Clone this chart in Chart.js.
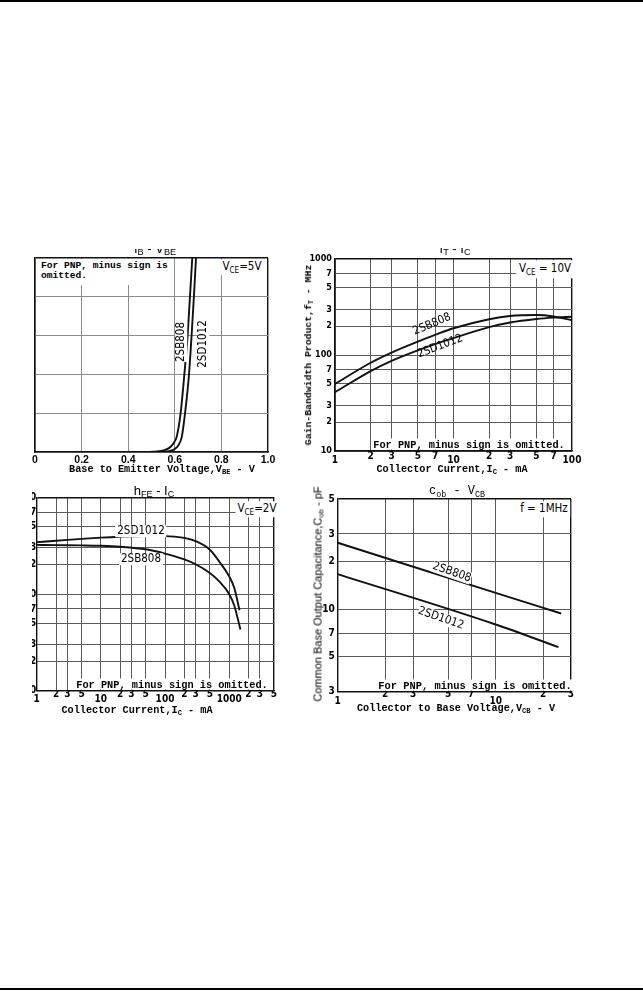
<!DOCTYPE html>
<html>
<head>
<meta charset="utf-8">
<script src="https://cdn.jsdelivr.net/npm/chart.js@4.4.1/dist/chart.umd.min.js"></script>
<style>
  body { margin: 0; background: #fff; }
  #page { position: relative; width: 643px; height: 991px; overflow: hidden; background: #fff; }
  canvas { position: absolute; }
  .rule { position: absolute; left: 0; width: 643px; height: 2px; background: #000; }
  .t { position: absolute; white-space: nowrap; line-height: 1; color: #000; transform: translate(-50%, -50%); }
  .bg { background: #fff; }
  .mono { font-family: "Liberation Mono", "DejaVu Sans Mono", monospace; font-weight: bold; }
  .sans { font-family: "Liberation Sans", Arial, sans-serif; }
  .narrow { font-family: "Liberation Sans Narrow", "DejaVu Sans Condensed", "Liberation Sans", sans-serif; }
  .note { line-height: 10px; padding: 1px 2px 0 2px; }
  sub { font-size: 70%; vertical-align: -0.3em; line-height: 0; }
  .clip { position: absolute; overflow: hidden; }
</style>
</head>
<body>
<div id="page">
  <div class="rule" style="top:0"></div>
  <div class="rule" style="top:988px"></div>

  <canvas id="ibChart"></canvas>
  <canvas id="ftChart"></canvas>
  <canvas id="hfeChart"></canvas>
  <canvas id="cobChart"></canvas>

  <!-- I_B - V_BE -->
  <div class="clip" style="left:100px;top:249px;width:110px;height:9px">
    <div class="t sans" style="left:55px;top:-1px;font-size:13px">I<sub>B</sub> - V<sub>BE</sub></div>
  </div>
  <div class="t mono bg" style="left:37px;top:259px;transform:none;font-size:9.6px;line-height:10px;padding:2px 4px 4px 4px">For PNP, minus sign is<br>omitted.</div>
  <div class="t narrow bg" style="left:242px;top:267px;font-size:11.5px;padding:2px">V<sub>CE</sub>=5V</div>
  <div class="t narrow bg" style="left:181px;top:342px;font-size:11.5px;transform:translate(-50%,-50%) rotate(-90deg)">2SB808</div>
  <div class="t narrow bg" style="left:203px;top:344px;font-size:11.5px;transform:translate(-50%,-50%) rotate(-90deg)">2SD1012</div>
  <div class="t mono" style="left:162px;top:470px;font-size:10.2px">Base to Emitter Voltage,V<sub>BE</sub> - V</div>

  <!-- f_T - I_C -->
  <div class="clip" style="left:400px;top:248px;width:110px;height:9px">
    <div class="t sans" style="left:55px;top:0px;font-size:13px">f<sub>T</sub> - I<sub>C</sub></div>
  </div>
  <div class="t narrow bg" style="left:545px;top:269px;font-size:11.5px;padding:3px 3px">V<sub>CE</sub> = 10V</div>
  <div class="t narrow" style="left:432px;top:324px;font-size:11.5px;transform:translate(-50%,-50%) rotate(-23deg)">2SB808</div>
  <div class="t narrow" style="left:440px;top:346px;font-size:11.5px;transform:translate(-50%,-50%) rotate(-21deg)">2SD1012</div>
  <div class="t mono bg note" style="left:469px;top:444px;font-size:10.3px">For PNP, minus sign is omitted.</div>
  <div class="t mono" style="left:309px;top:355px;font-size:9.8px;transform:translate(-50%,-50%) rotate(-90deg)">Gain-Bandwidth Product,f<sub>T</sub> - MHz</div>
  <div class="t mono" style="left:452px;top:470px;font-size:10.2px">Collector Current,I<sub>C</sub> - mA</div>

  <!-- h_FE - I_C -->
  <div class="t sans" style="left:154px;top:490px;font-size:13px">h<sub>FE</sub> - I<sub>C</sub></div>
  <div class="t narrow bg" style="left:257px;top:509px;font-size:11.5px;padding:2px">V<sub>CE</sub>=2V</div>
  <div class="t narrow bg" style="left:141px;top:531px;font-size:11.5px;padding:0 2px">2SD1012</div>
  <div class="t narrow bg" style="left:141px;top:559px;font-size:11.5px;padding:0 2px">2SB808</div>
  <div class="t mono bg note" style="left:172px;top:683.5px;font-size:10.3px">For PNP, minus sign is omitted.</div>
  <div class="t mono" style="left:137px;top:711px;font-size:10.2px">Collector Current,I<sub>C</sub> - mA</div>

  <!-- C_ob - V_CB -->
  <div class="t mono" style="left:457px;top:491px;font-size:12px;font-weight:normal">c<sub>ob</sub> - V<sub>CB</sub></div>
  <div class="t narrow bg" style="left:544px;top:509px;font-size:11.5px;padding:2px">f = 1MHz</div>
  <div class="t narrow bg" style="left:452px;top:572px;font-size:11.5px;transform:translate(-50%,-50%) rotate(19deg)">2SB808</div>
  <div class="t narrow bg" style="left:441px;top:618px;font-size:11.5px;transform:translate(-50%,-50%) rotate(19deg)">2SD1012</div>
  <div class="t mono bg note" style="left:475px;top:685px;font-size:10.4px">For PNP, minus sign is omitted.</div>
  <div class="t sans" style="left:318px;top:594px;font-size:11px;transform:translate(-50%,-50%) rotate(-90deg)">Common Base Output Capacitance,C<sub>ob</sub> - pF</div>
  <div class="t mono" style="left:456px;top:709px;font-size:10.2px">Collector to Base Voltage,V<sub>CB</sub> - V</div>
</div>

<script>
// --- I_B - V_BE (y read in grid divisions, the axis has no printed scale) ---
const vbe808  = [0.48, 0.508, 0.551, 0.575, 0.594, 0.608, 0.625, 0.641, 0.655, 0.665, 0.675, 0.68];
const ib808   = [0, 0.005, 0.04, 0.1, 0.22, 0.39, 1, 2, 3, 4, 5, 5.6];
const vbe1012 = [0.50, 0.536, 0.56, 0.587, 0.60, 0.615, 0.63, 0.644, 0.661, 0.672, 0.682, 0.691, 0.696];
const ib1012  = [0, 0.005, 0.01, 0.04, 0.08, 0.17, 0.39, 1, 2, 3, 4, 5, 5.6];
const vbeTicks = [0, 0.2, 0.4, 0.6, 0.8, 1.0];
const ibTicks  = [0, 1, 2, 3, 4, 5];

// --- f_T - I_C (mA, MHz) ---
const icFt   = [1, 2, 3, 5, 7, 10, 20, 30, 50, 70, 100];
const ft808  = [50, 83, 106, 138, 162, 190, 236, 255, 261, 252, 230];
const ft1012 = [41, 68, 87, 112, 130, 150, 195, 218, 237, 245, 250];
const ftXTicks = [1, 2, 3, 5, 7, 10, 20, 30, 50, 70, 100];
const ftYTicks = [10, 20, 30, 50, 70, 100, 200, 300, 500, 700, 1000];

// --- h_FE - I_C (mA) ---
const icH1012  = [1, 2, 5, 10, 20, 50, 100, 200, 300, 500, 700, 1000, 1200, 1450];
const hfe1012  = [344, 355, 372, 383, 391, 397, 397, 380, 352, 287, 217, 152, 116, 68];
const icH808   = [1, 2, 5, 10, 20, 50, 100, 200, 300, 500, 700, 1000, 1200, 1500];
const hfe808   = [322, 320, 318, 315, 308, 290, 262, 228, 203, 165, 135, 100, 76, 43];
const hfeXTicks = [1, 2, 3, 5, 10, 20, 30, 50, 100, 200, 300, 500, 1000, 2000, 3000, 5000];
const hfeYTicks = [10, 20, 30, 50, 70, 100, 200, 300, 500, 700, 1000];

// --- C_ob - V_CB (V, pF) ---
const vcb808   = [1, 10, 26];
const cob808   = [26.4, 12.7, 9.4];
const vcb1012  = [1, 10, 25];
const cob1012  = [16.7, 8.0, 5.75];
const cobXTicks = [1, 2, 3, 5, 7, 10, 20, 30];
const cobYTicks = [3, 5, 7, 10, 20, 30, 50];

const INK = '#111';
const GRID = '#5a5a5a';
const NUM_FONT = '"Liberation Sans Narrow", "DejaVu Sans Condensed", "Liberation Sans", sans-serif';

function isDecade(v) {
    const l = Math.log10(v);
    return Math.abs(l - Math.round(l)) < 1e-9;
}

// log ticks: decades printed in full, the rest only by leading digit
function logLabel(v) {
    return isDecade(v) ? String(v) : String(v).charAt(0);
}

function setTicks(values) {
    return scale => { scale.ticks = values.map(v => ({ value: v })); };
}

function gridFor(maxVal, color) {
    return {
        color: c => (c.tick && Math.abs(c.tick.value - maxVal) < 1e-9) ? INK : color,
        lineWidth: c => (c.tick && Math.abs(c.tick.value - maxVal) < 1e-9) ? 1.4 : 1,
        drawTicks: false
    };
}

// x labels: decade labels sit a little lower than the digit labels
function xFont(size, lhMinor, lhMajor, majorTest) {
    return c => ({
        family: NUM_FONT, size: size, weight: 'bold',
        lineHeight: (c.tick && majorTest(c.tick.value)) ? lhMajor + 'px' : lhMinor + 'px'
    });
}

function curve(xs, ys) {
    return xs.map((x, i) => ({ x: x, y: ys[i] }));
}

function lineSet(xs, ys) {
    return {
        data: curve(xs, ys),
        showLine: true,
        borderColor: INK,
        borderWidth: 1.9,
        pointRadius: 0,
        cubicInterpolationMode: 'monotone',
        fill: false
    };
}

// box: canvas rect (cl, ct, cr, cb) and plot rect (l, t, r, b), page pixels
function drawChart(id, box, datasets, xOpt, yOpt) {
    const cv = document.getElementById(id);
    cv.width = Math.round(box.cr - box.cl);
    cv.height = Math.round(box.cb - box.ct);
    cv.style.left = box.cl + 'px';
    cv.style.top = box.ct + 'px';
    const yW = box.l - box.cl;
    const xH = box.cb - box.b;

    return new Chart(cv, {
        type: 'scatter',
        data: { datasets: datasets },
        options: {
            responsive: false,
            animation: false,
            devicePixelRatio: 1,
            events: [],
            layout: { padding: { left: 0, top: box.t - box.ct, right: box.cr - box.r, bottom: 0 } },
            plugins: { legend: { display: false }, tooltip: { enabled: false } },
            scales: {
                x: Object.assign({
                    position: 'bottom',
                    border: { color: INK, width: 1.4 },
                    afterFit: s => { s.height = xH; s.paddingLeft = 0; s.paddingRight = 0; }
                }, xOpt),
                y: Object.assign({
                    position: 'left',
                    border: { color: INK, width: 1.4 },
                    afterFit: s => { s.width = yW; s.paddingTop = 0; s.paddingBottom = 0; }
                }, yOpt)
            }
        }
    });
}

const tickBase = { autoSkip: false, maxRotation: 0, minRotation: 0, color: '#000' };

// I_B - V_BE
drawChart('ibChart',
    { cl: 31, ct: 238, cr: 296, cb: 480, l: 35, t: 258, r: 268, b: 452 },
    [lineSet(vbe808, ib808), lineSet(vbe1012, ib1012)],
    {
        type: 'linear', min: 0, max: 1,
        afterBuildTicks: setTicks(vbeTicks),
        grid: gridFor(1, '#8c8c8c'),
        ticks: Object.assign({}, tickBase, {
            padding: 0,
            font: { family: '"Liberation Sans", sans-serif', size: 10.5, weight: 'bold', lineHeight: '16px' },
            callback: v => v === 0 ? '0' : v.toFixed(1)
        })
    },
    {
        type: 'linear', min: 0, max: 5,
        afterBuildTicks: setTicks(ibTicks),
        grid: gridFor(5, '#8c8c8c'),
        ticks: { display: false }
    }
);

// f_T - I_C
drawChart('ftChart',
    { cl: 305, ct: 248, cr: 597, cb: 480, l: 335, t: 259, r: 572, b: 451 },
    [lineSet(icFt, ft808), lineSet(icFt, ft1012)],
    {
        type: 'logarithmic', min: 1, max: 100,
        afterBuildTicks: setTicks(ftXTicks),
        grid: gridFor(100, GRID),
        ticks: Object.assign({}, tickBase, {
            padding: 0,
            font: xFont(10, 11.4, 18, isDecade),
            callback: v => logLabel(v)
        })
    },
    {
        type: 'logarithmic', min: 10, max: 1000,
        afterBuildTicks: setTicks(ftYTicks),
        grid: gridFor(1000, GRID),
        ticks: Object.assign({}, tickBase, {
            padding: 3,
            font: { family: NUM_FONT, size: 9, weight: 'bold' },
            callback: v => logLabel(v)
        })
    }
);

// h_FE - I_C
drawChart('hfeChart',
    { cl: 32, ct: 482, cr: 296, cb: 722, l: 36.7, t: 497.3, r: 274, b: 690.7 },
    [lineSet(icH1012, hfe1012), lineSet(icH808, hfe808)],
    {
        type: 'logarithmic', min: 1, max: 5000,
        afterBuildTicks: setTicks(hfeXTicks),
        grid: gridFor(5000, GRID),
        ticks: Object.assign({}, tickBase, {
            padding: 0,
            font: xFont(10, 6.5, 18, isDecade),
            callback: v => logLabel(v)
        })
    },
    {
        type: 'logarithmic', min: 10, max: 1000,
        afterBuildTicks: setTicks(hfeYTicks),
        grid: gridFor(1000, GRID),
        ticks: Object.assign({}, tickBase, {
            padding: 0.5,
            font: { family: NUM_FONT, size: 10, weight: 'bold' },
            callback: v => logLabel(v)
        })
    }
);

// C_ob - V_CB
drawChart('cobChart',
    { cl: 314, ct: 482, cr: 597, cb: 722, l: 337.7, t: 499, r: 571, b: 691.7 },
    [lineSet(vcb808, cob808), lineSet(vcb1012, cob1012)],
    {
        type: 'logarithmic', min: 1, max: 30,
        afterBuildTicks: setTicks(cobXTicks),
        grid: gridFor(30, GRID),
        ticks: Object.assign({}, tickBase, {
            padding: 0,
            font: xFont(10, 6, 19, isDecade),
            callback: v => logLabel(v)
        })
    },
    {
        type: 'logarithmic', min: 3, max: 50,
        afterBuildTicks: setTicks(cobYTicks),
        grid: gridFor(50, GRID),
        ticks: Object.assign({}, tickBase, {
            padding: 3,
            font: { family: NUM_FONT, size: 10, weight: 'bold' },
            callback: v => logLabel(v)
        })
    }
);
</script>
</body>
</html>
